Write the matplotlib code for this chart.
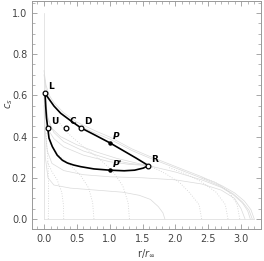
import matplotlib
matplotlib.use("Agg")
import matplotlib.pyplot as plt
from matplotlib.ticker import MultipleLocator

# ---- data ----
upper_x = [0.015, 0.04, 0.076, 0.152, 0.254, 0.406, 0.558, 0.76, 1.0, 1.2, 1.4, 1.59]
upper_y = [0.613, 0.598, 0.582, 0.548, 0.513, 0.477, 0.443, 0.41, 0.37, 0.333, 0.296, 0.259]

lower_x = [0.015, 0.025, 0.038, 0.056, 0.076, 0.127, 0.2, 0.28, 0.355, 0.45, 0.558, 0.76, 1.0, 1.22, 1.38, 1.51, 1.59]
lower_y = [0.613, 0.55, 0.49, 0.443, 0.392, 0.351, 0.31, 0.285, 0.272, 0.262, 0.254, 0.243, 0.237, 0.234, 0.237, 0.247, 0.259]

open_names = ["L", "U", "C", "D", "R"]
open_x = [0.015, 0.056, 0.335, 0.558, 1.59]
open_y = [0.613, 0.443, 0.443, 0.443, 0.259]

dot_names = ["P", "P'"]
dot_x = [1.0, 1.0]
dot_y = [0.37, 0.237]

# background family (solid light grey)
solid_curves = [
    ([0.0, 0.0], [1.0, 0.0]),
    ([0.0, 3.2], [0.0, 0.0]),
    ([0.0, 0.03, 0.08, 0.15, 0.3, 0.5, 0.8, 1.0, 1.34, 1.6, 2.0, 2.4, 2.7, 2.9, 3.05, 3.15, 3.2],
     [0.72, 0.65, 0.6, 0.565, 0.515, 0.47, 0.425, 0.398, 0.34, 0.305, 0.255, 0.205, 0.163, 0.127, 0.087, 0.045, 0.0]),
    ([0.0, 0.03, 0.08, 0.15, 0.3, 0.5, 0.8, 1.0, 1.34, 1.6, 2.0, 2.4, 2.7, 2.88, 3.02, 3.12, 3.17],
     [0.7, 0.63, 0.585, 0.55, 0.5, 0.458, 0.414, 0.388, 0.332, 0.297, 0.248, 0.198, 0.157, 0.122, 0.083, 0.043, 0.0]),
    ([0.015, 0.05, 0.12, 0.25, 0.5, 0.8, 1.1, 1.4, 1.59, 2.0, 2.4, 2.7, 2.88, 3.02, 3.1, 3.14],
     [0.613, 0.5, 0.44, 0.4, 0.36, 0.325, 0.295, 0.272, 0.259, 0.228, 0.19, 0.153, 0.118, 0.078, 0.04, 0.0]),
    ([0.02, 0.06, 0.15, 0.3, 0.6, 1.0, 1.3, 1.59],
     [0.6, 0.48, 0.42, 0.375, 0.33, 0.29, 0.27, 0.259]),
    ([0.01, 0.03, 0.07, 0.15, 0.3, 0.6, 1.0, 1.3, 1.59],
     [0.6, 0.5, 0.43, 0.39, 0.35, 0.31, 0.278, 0.265, 0.259]),
    ([0.0, 0.02, 0.05, 0.12, 0.3, 0.6, 1.0, 1.5, 2.0, 2.4, 2.7, 2.9, 3.0, 3.06],
     [0.6, 0.42, 0.33, 0.27, 0.235, 0.215, 0.205, 0.2, 0.19, 0.17, 0.14, 0.1, 0.05, 0.0]),
    ([0.0, 0.02, 0.06, 0.15, 0.4, 0.8, 1.2, 1.45, 1.62, 1.74, 1.81, 1.84],
     [0.55, 0.3, 0.2, 0.165, 0.15, 0.14, 0.13, 0.115, 0.095, 0.06, 0.03, 0.0]),
]

# background family (dotted light grey)
dotted_curves = [
    ([0.065, 0.07, 0.068, 0.06, 0.045, 0.03], [0.0, 0.1, 0.2, 0.28, 0.35, 0.42]),
    ([0.3, 0.295, 0.27, 0.2, 0.12, 0.05], [0.0, 0.07, 0.13, 0.19, 0.23, 0.28]),
    ([0.76, 0.74, 0.68, 0.56, 0.4, 0.22, 0.08], [0.0, 0.08, 0.15, 0.21, 0.26, 0.31, 0.37]),
    ([1.3, 1.28, 1.2, 1.05, 0.85, 0.6, 0.35, 0.15], [0.0, 0.08, 0.16, 0.23, 0.29, 0.35, 0.42, 0.5]),
    ([2.4, 2.36, 2.22, 2.07, 1.85, 1.6], [0.0, 0.07, 0.126, 0.175, 0.22, 0.26]),
    ([2.8, 2.76, 2.62, 2.4, 2.15, 1.9], [0.0, 0.07, 0.13, 0.18, 0.22, 0.25]),
    ([2.98, 2.94, 2.82, 2.6, 2.4], [0.0, 0.07, 0.13, 0.18, 0.2]),
]

xticks = [0.0, 0.5, 1.0, 1.5, 2.0, 2.5, 3.0]
yticks = [0.0, 0.2, 0.4, 0.6, 0.8, 1.0]

# ---- figure ----
fig = plt.figure(figsize=(2.64, 2.61), dpi=100)
ax = fig.add_axes([32 / 264, 1 - 229 / 261, 229 / 264, 228 / 261])

for xs, ys in solid_curves:
    ax.plot(xs, ys, color="#dadada", lw=0.5, zorder=1)
for xs, ys in dotted_curves:
    ax.plot(xs, ys, color="#cfcfcf", lw=0.6, ls=(0, (1, 2)), zorder=1)

ax.plot(upper_x, upper_y, color="black", lw=1.2, zorder=3)
ax.plot(lower_x, lower_y, color="black", lw=1.2, zorder=3)

ax.plot(open_x, open_y, ls="none", marker="o", ms=3.4, mfc="white", mec="black", mew=0.9, zorder=4)
ax.plot(dot_x, dot_y, ls="none", marker="o", ms=2.2, mfc="black", mec="black", zorder=4)

for n, x, y in zip(open_names, open_x, open_y):
    ax.annotate(n, (x, y), xytext=(2.2, 1.0), textcoords="offset points",
                ha="left", va="bottom", fontsize=6.5, fontweight="bold", zorder=5)
for n, x, y in zip(dot_names, dot_x, dot_y):
    ax.annotate(n, (x, y), xytext=(2.2, 1.0), textcoords="offset points",
                ha="left", va="bottom", fontsize=6.5, fontweight="bold", fontstyle="italic", zorder=5)

ax.set_xlim(-0.183, 3.303)
ax.set_ylim(-0.0485, 1.058)
ax.set_xticks(xticks)
ax.set_yticks(yticks)
ax.set_xticklabels([f"{t:.1f}" for t in xticks])
ax.set_yticklabels([f"{t:.1f}" for t in yticks])
ax.xaxis.set_minor_locator(MultipleLocator(0.1))
ax.yaxis.set_minor_locator(MultipleLocator(0.05))
ax.tick_params(which="both", direction="in", top=True, right=True, color="#999999",
               labelsize=7, labelcolor="#444444")
ax.tick_params(which="major", length=3.5, width=0.6)
ax.tick_params(which="minor", length=2, width=0.5)
for s in ax.spines.values():
    s.set_color("#999999")
    s.set_linewidth(0.7)

ax.set_xlabel(r"r/$r_{\infty}$", fontsize=7, color="#444444", labelpad=3)
ax.set_ylabel(r"$c_s$", fontsize=7, color="#444444")
ax.yaxis.set_label_coords(-0.075, 0.55)

fig.savefig("out.png", dpi=100)
